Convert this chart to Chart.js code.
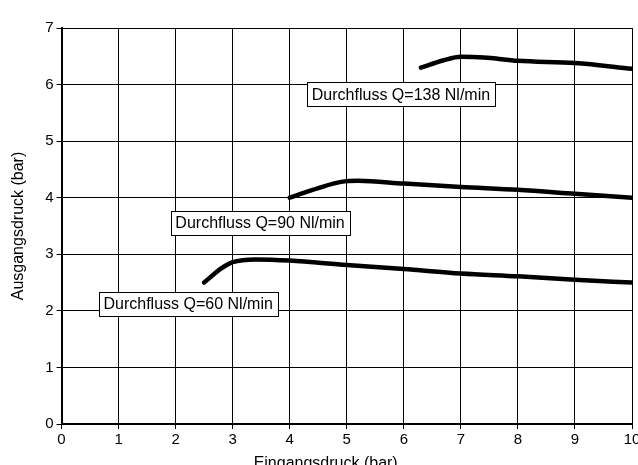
<!DOCTYPE html>
<html>
<head>
<meta charset="utf-8">
<script src="https://cdn.jsdelivr.net/npm/chart.js@4"></script>
<style>
  html, body { margin: 0; padding: 0; background: #fff; overflow: hidden; }
  #wrap { width: 638px; height: 465px; overflow: hidden; }
  canvas { display: block; }
</style>
</head>
<body>
<div id="wrap"><canvas id="druck" width="680" height="500"></canvas></div>
<script>
// Eingangsdruck (bar) / Ausgangsdruck (bar) per curve
const xQ60 = [2.5, 2.8, 3.0, 3.4, 4.0, 5.0, 6.0, 7.0, 8.0, 9.0, 10.0];
const yQ60 = [2.5, 2.75, 2.86, 2.91, 2.89, 2.81, 2.74, 2.66, 2.61, 2.55, 2.5];

const xQ90 = [4.0, 4.5, 4.9, 5.2, 6.0, 7.0, 8.0, 9.0, 10.0];
const yQ90 = [4.0, 4.17, 4.28, 4.3, 4.25, 4.19, 4.14, 4.07, 4.0];

const xQ138 = [6.3, 6.7, 7.0, 7.4, 8.0, 9.0, 10.0];
const yQ138 = [6.3, 6.43, 6.49, 6.48, 6.42, 6.38, 6.28];

// Label boxes: text and centre (data coords)
const labelTexts = ['Durchfluss Q=138 Nl/min', 'Durchfluss Q=90 Nl/min', 'Durchfluss Q=60 Nl/min'];
const labelX = [5.95, 3.48, 2.22];
const labelY = [5.83, 3.56, 2.13];

const xTitle = 'Eingangsdruck (bar)';
const yTitle = 'Ausgangsdruck (bar)';

const FONT = '"Liberation Sans", Arial, Helvetica, sans-serif';

function toPoints(xs, ys) {
  return xs.map((x, i) => ({ x: x, y: ys[i] }));
}

function curve(xs, ys) {
  return {
    data: toPoints(xs, ys),
    showLine: true,
    borderColor: '#000',
    borderWidth: 4.5,
    borderCapStyle: 'round',
    borderJoinStyle: 'round',
    cubicInterpolationMode: 'monotone',
    pointRadius: 0,
    fill: false,
  };
}

// boxed flow labels and the x axis caption
const boxLabels = {
  id: 'boxLabels',
  afterDatasetsDraw(chart) {
    const c = chart.ctx;
    const xs = chart.scales.x;
    const ys = chart.scales.y;
    c.save();
    c.font = '16px ' + FONT;
    c.textAlign = 'center';
    c.textBaseline = 'middle';
    labelTexts.forEach((t, i) => {
      const px = xs.getPixelForValue(labelX[i]);
      const py = ys.getPixelForValue(labelY[i]);
      const w = Math.round(c.measureText(t).width + 10);
      const h = 24;
      const left = Math.round(px - w / 2) + 0.5;
      const top = Math.round(py - h / 2) + 0.5;
      c.fillStyle = '#fff';
      c.fillRect(left, top, w, h);
      c.strokeStyle = '#000';
      c.lineWidth = 1;
      c.strokeRect(left, top, w, h);
      c.fillStyle = '#000';
      c.fillText(t, px, py + 1);
    });
    // x caption sits a little left of the axis centre
    c.textBaseline = 'alphabetic';
    c.fillText(xTitle, xs.getPixelForValue(4.63), ys.bottom + 44);
    c.restore();
  },
};

new Chart(document.getElementById('druck'), {
  type: 'scatter',
  data: {
    datasets: [curve(xQ60, yQ60), curve(xQ90, yQ90), curve(xQ138, yQ138)],
  },
  options: {
    responsive: false,
    animation: false,
    layout: { padding: { top: 28, right: 48, left: 9, bottom: 49 } },
    plugins: {
      legend: { display: false },
      tooltip: { enabled: false },
    },
    scales: {
      x: {
        type: 'linear',
        min: 0,
        max: 10,
        ticks: { stepSize: 1, color: '#000', font: { family: FONT, size: 15 }, padding: 2, maxRotation: 0 },
        grid: { color: '#000', lineWidth: 1, tickLength: 5, tickColor: '#000' },
        border: { color: '#000', width: 2 },
      },
      y: {
        min: 0,
        max: 7,
        ticks: { stepSize: 1, color: '#000', font: { family: FONT, size: 15 }, padding: 3 },
        grid: { color: '#000', lineWidth: 1, tickLength: 5, tickColor: '#000' },
        border: { color: '#000', width: 2 },
        title: { display: true, text: yTitle, color: '#000', font: { family: FONT, size: 16 }, padding: { top: 0, bottom: 14 } },
      },
    },
  },
  plugins: [boxLabels],
});
</script>
</body>
</html>
